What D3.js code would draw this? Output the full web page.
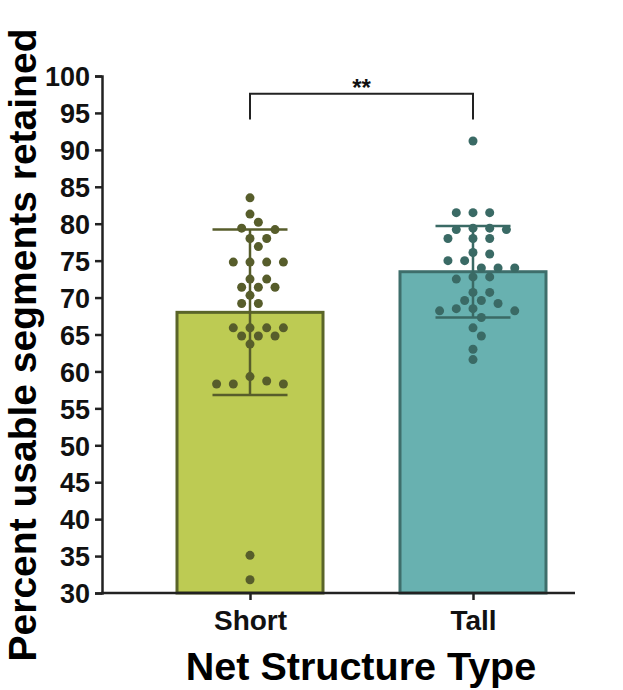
<!DOCTYPE html>
<html>
<head>
<meta charset="utf-8">
<script src="https://cdn.jsdelivr.net/npm/d3@7"></script>
<style>
  body { margin: 0; background: #fff; }
  text { font-family: "Liberation Sans", Arial, sans-serif; font-weight: bold; }
</style>
</head>
<body>
<div id="chart"></div>
<script>
// dados
const categorias = ["Short", "Tall"];
const medias = [68.0, 73.5];
const desvios = [11.2, 6.2];
const pontosShort = [83.5, 81.3, 80.2, 79.4, 79.2, 78.0, 78.0, 76.9, 74.8, 74.8, 74.8, 74.8,
  72.5, 72.5, 71.4, 71.4, 71.4, 70.3, 69.2, 69.2, 65.9, 65.9, 65.9, 65.9, 64.8, 64.8, 64.8,
  63.7, 59.3, 58.7, 58.3, 58.3, 58.3, 35.1, 31.8];
const pontosTall = [91.2, 81.5, 81.5, 81.5, 79.4, 79.4, 79.2, 79.2, 78.0, 78.0, 78.0, 76.1,
  75.9, 75.0, 75.0, 74.0, 74.0, 74.0, 72.8, 72.8, 72.5, 70.7, 70.7, 69.6, 69.6, 69.2,
  68.5, 68.5, 68.2, 68.2, 67.3, 65.9, 64.8, 63.0, 61.6];
const ticksY = d3.range(30, 101, 5);
const significancia = "**";

const pontos = [pontosShort, pontosTall];
const corFill = ["#bdcb53", "#68b1b0"];
const corBorda = ["#5a6529", "#3e6e6b"];
const corPonto = ["#575d2b", "#3a6a65"];

const largura = 623, altura = 690;

const svg = d3.select("#chart").append("svg")
    .attr("width", largura)
    .attr("height", altura);

const escalaY = d3.scaleLinear().domain([30, 100]).range([593, 76]);
const escalaX = d3.scalePoint().domain(categorias).range([250, 473]);
const larguraBarra = 146;

// Barras
svg.selectAll("rect.barra")
    .data(categorias)
    .enter()
    .append("rect")
    .attr("class", "barra")
    .attr("x", (d, i) => escalaX(d) - larguraBarra / 2)
    .attr("y", (d, i) => escalaY(medias[i]))
    .attr("width", larguraBarra)
    .attr("height", (d, i) => escalaY(30) - escalaY(medias[i]))
    .attr("fill", (d, i) => corFill[i])
    .attr("stroke", (d, i) => corBorda[i])
    .attr("stroke-width", 3);

// Barras de erro (média ± DP)
categorias.forEach((c, i) => {
    const cx = escalaX(c);
    const g = svg.append("g")
        .attr("stroke", corPonto[i])
        .attr("stroke-width", 2.5);
    g.append("line")
        .attr("x1", cx).attr("x2", cx)
        .attr("y1", escalaY(medias[i] - desvios[i]))
        .attr("y2", escalaY(medias[i] + desvios[i]));
    [medias[i] - desvios[i], medias[i] + desvios[i]].forEach(v => {
        g.append("line")
            .attr("x1", cx - 37.5).attr("x2", cx + 37.5)
            .attr("y1", escalaY(v)).attr("y2", escalaY(v));
    });
});

// Beeswarm simples: cada ponto vai para o primeiro deslocamento livre
function enxame(valores, cx, passo, altLinha) {
    const colocados = [];
    const ordenados = valores.slice().sort((a, b) => b - a);
    ordenados.forEach(v => {
        const y = escalaY(v);
        for (let k = 0; k < 40; k++) {
            const off = (k % 2 === 1 ? 1 : -1) * Math.ceil(k / 2) * passo / 2;
            const bate = colocados.some(p => {
                const dx = (p.x - off) / passo, dy = (p.y - y) / altLinha;
                return dx * dx + dy * dy < 0.98;
            });
            if (!bate) { colocados.push({ x: off, y: y }); break; }
        }
    });
    return colocados.map(p => ({ x: cx + p.x, y: p.y }));
}

categorias.forEach((c, i) => {
    svg.append("g")
        .selectAll("circle")
        .data(enxame(pontos[i], escalaX(c), 16.7, 9))
        .enter()
        .append("circle")
        .attr("cx", d => d.x)
        .attr("cy", d => d.y)
        .attr("r", 4.5)
        .attr("fill", corPonto[i]);
});

// Eixo Y
const eixoY = svg.append("g")
    .attr("transform", "translate(102,0)")
    .call(d3.axisLeft(escalaY).tickValues(ticksY).tickSize(7).tickPadding(5));
eixoY.selectAll("text").style("font-size", "27px").attr("fill", "#111").attr("dy", "0.36em");
eixoY.selectAll("line").attr("stroke", "#222").attr("stroke-width", 2.5);
eixoY.select(".domain").attr("stroke", "#222").attr("stroke-width", 2.5);

// Eixo X
const eixoX = svg.append("g")
    .attr("transform", "translate(0,593)")
    .call(d3.axisBottom(escalaX).tickSize(7).tickPadding(10));
eixoX.select(".domain").remove();
eixoX.selectAll("line").attr("stroke", "#222").attr("stroke-width", 2.5);
eixoX.selectAll("text").style("font-size", "28px").attr("fill", "#111");
svg.append("line")
    .attr("x1", 101).attr("x2", 575)
    .attr("y1", 593).attr("y2", 593)
    .attr("stroke", "#222")
    .attr("stroke-width", 2.5);

// Colchete de significância
const yTopo = escalaY(97.6), yPerna = escalaY(94.1);
svg.append("path")
    .attr("d", `M${escalaX("Short")},${yPerna}V${yTopo}H${escalaX("Tall")}V${yPerna}`)
    .attr("fill", "none")
    .attr("stroke", "#222")
    .attr("stroke-width", 2);
svg.append("text")
    .attr("x", (escalaX("Short") + escalaX("Tall")) / 2)
    .attr("y", yTopo + 2)
    .attr("text-anchor", "middle")
    .style("font-size", "24px")
    .attr("fill", "#111")
    .text(significancia);

// Títulos dos eixos
svg.append("text")
    .attr("x", 361)
    .attr("y", 680)
    .attr("text-anchor", "middle")
    .style("font-size", "39.5px")
    .attr("fill", "#000")
    .text("Net Structure Type");

svg.append("text")
    .attr("transform", "translate(35.5,345) rotate(-90)")
    .attr("text-anchor", "middle")
    .style("font-size", "39px")
    .attr("fill", "#000")
    .text("Percent usable segments retained");
</script>
</body>
</html>
